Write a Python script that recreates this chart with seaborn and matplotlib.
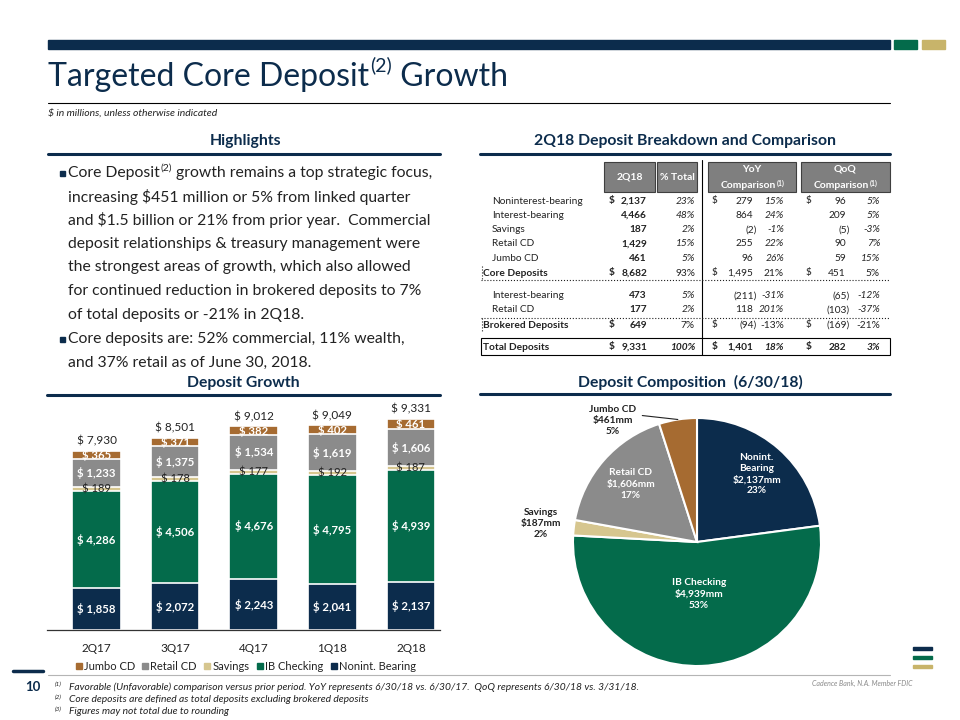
import numpy as np
import pandas as pd
import matplotlib.pyplot as plt
import seaborn as sns
from matplotlib.lines import Line2D
from matplotlib.patches import Rectangle

NAVY = '#0c2c4c'
GREEN = '#046b4b'
TAN = '#d6c68f'
GRAY = '#8b8b8b'
BROWN = '#a66b31'
GOLD = '#c8b46a'
INK = '#222222'

# deposit growth (stacked bars), $mm
quarters = ["2Q17", "3Q17", "4Q17", "1Q18", "2Q18"]
nonint_bearing = [1858, 2072, 2243, 2041, 2137]
ib_checking = [4286, 4506, 4676, 4795, 4939]
savings = [189, 178, 177, 192, 187]
retail_cd = [1233, 1375, 1534, 1619, 1606]
jumbo_cd = [365, 371, 382, 402, 461]
total_labels = [7930, 8501, 9012, 9049, 9331]

# deposit composition pie
pie_names = ["Nonint.\nBearing", "IB Checking", "Savings", "Retail CD", "Jumbo CD"]
pie_values = [2137, 4939, 187, 1606, 461]
pie_pcts = [23, 53, 2, 17, 5]

# breakdown table
row_names = ["Noninterest-bearing", "Interest-bearing", "Savings", "Retail CD", "Jumbo CD",
             "Core Deposits", "Interest-bearing", "Retail CD", "Brokered Deposits", "Total Deposits"]
q218 = [2137, 4466, 187, 1429, 461, 8682, 473, 177, 649, 9331]
pct_total = [23, 48, 2, 15, 5, 93, 5, 2, 7, 100]
yoy = [279, 864, -2, 255, 96, 1495, -211, 118, -94, 1401]
yoy_pct = [15, 24, -1, 22, 26, 21, -31, 201, -13, 18]
qoq = [96, 209, -5, 90, 59, 451, -65, -103, -169, 282]
qoq_pct = [5, 5, -3, 7, 15, 5, -12, -37, -21, 3]

bullets = [
    ["Core Deposit", "(2)", " growth remains a top strategic focus,",
     "increasing $451 million or 5% from linked quarter",
     "and $1.5 billion or 21% from prior year.  Commercial",
     "deposit relationships & treasury management were",
     "the strongest areas of growth, which also allowed",
     "for continued reduction in brokered deposits to 7%",
     "of total deposits or -21% in 2Q18."],
    ["Core deposits are: 52% commercial, 11% wealth,",
     "and 37% retail as of June 30, 2018."],
]

footnotes = [
    ("(1)", "Favorable (Unfavorable) comparison versus prior period. YoY represents 6/30/18 vs. 6/30/17.  QoQ represents 6/30/18 vs. 3/31/18."),
    ("(2)", "Core deposits are defined as total deposits excluding brokered deposits"),
    ("(3)", "Figures may not total due to rounding"),
]

sns.set_style('white')
plt.rcParams['font.family'] = ['Lato', 'DejaVu Sans']
plt.rcParams['text.parse_math'] = False

fig = plt.figure(figsize=(9.6, 7.2), dpi=100)
L = fig.add_axes([0, 0, 1, 1])
L.set_xlim(0, 960)
L.set_ylim(720, 0)
L.axis('off')


def sup_text(x, y, before, sup, after, size, sup_size, lift=0, **kw):
    t1 = L.text(x, y, before, fontsize=size, va='center', ha='left', **kw)
    t2 = L.annotate(sup, xy=(1, 1), xycoords=t1, xytext=(0.5, lift), textcoords='offset points',
                    fontsize=sup_size, va='top', ha='left', **kw)
    t3 = L.annotate(after, xy=(1, 0), xycoords=(t2, t1), fontsize=size, va='bottom', ha='left', **kw)
    return t3


# header band
L.add_patch(Rectangle((48, 40), 842, 9, color=NAVY))
L.add_patch(Rectangle((894, 40), 23, 9, color=GREEN))
L.add_patch(Rectangle((922, 40), 23, 9, color=GOLD))

sup_text(48, 77, "Targeted Core Deposit", "(2)", " Growth", 23, 14, lift=4, color=NAVY)
L.plot([48, 890], [103, 103], color='black', lw=0.8)
L.text(48, 113, "$ in millions, unless otherwise indicated", fontsize=7.5, style='italic',
       va='center', color=INK)

# section headings
for txt, cx, cy, x0, x1, uy in [("Highlights", 246, 141, 48, 440, 154),
                                ("2Q18 Deposit Breakdown and Comparison", 685, 141, 480, 890, 154),
                                ("Deposit Growth", 243, 383, 47, 440, 395),
                                ("Deposit Composition  (6/30/18)", 690, 382, 480, 890, 394)]:
    L.text(cx, cy, txt, fontsize=11.3, fontweight='bold', color=NAVY, ha='center', va='center')
    L.plot([x0, x1], [uy, uy], color=NAVY, lw=2.2)

# highlights bullets
y = 173
for b, lines in enumerate(bullets):
    L.add_patch(Rectangle((59.5, y - 2.5), 5, 5, color=NAVY))
    if b == 0:
        sup_text(68, y, lines[0], lines[1], lines[2], 11.3, 7.5, lift=2, color=INK)
        rest = lines[3:]
    else:
        L.text(68, y, lines[0], fontsize=11.3, va='center', color=INK)
        rest = lines[1:]
    for line in rest:
        y += 23.6
        L.text(68, y, line, fontsize=11.3, va='center', color=INK)
    y += 24.6

# table
for x0, x1, txt in [(604, 655, ["2Q18"]), (657, 697, ["% Total"]),
                    (708, 796, ["YoY", "Comparison"]), (801, 890, ["QoQ", "Comparison"])]:
    L.add_patch(Rectangle((x0, 162), x1 - x0, 30, facecolor='#7f7f7f', edgecolor='#3f3f3f', lw=0.8))
    cx = (x0 + x1) / 2
    if len(txt) == 1:
        L.text(cx, 177, txt[0], fontsize=7.5, color='white', fontweight='bold', ha='center', va='center')
    else:
        L.text(cx, 169, txt[0], fontsize=7.5, color='white', fontweight='bold', ha='center', va='center')
        t = L.text(cx - 4, 186, txt[1], fontsize=7.5, color='white', fontweight='bold', ha='center', va='center')
        L.annotate("(1)", xy=(1, 1), xycoords=t, xytext=(0.5, 1), textcoords='offset points',
                   fontsize=5, color='white', fontweight='bold', va='top', ha='left')

row_y = [201, 215, 230, 244, 258.5, 273, 296, 310, 325, 347]
dollar_rows = {0, 5, 8, 9}
sub_rows = {5, 8, 9}


def money(v):
    return f"{v:,}" if v >= 0 else f"({abs(v):,})"


for i, name in enumerate(row_names):
    ry = row_y[i]
    tot = i == 9
    lw_ = 'bold' if (i in sub_rows) else 'normal'
    L.text(483 if i in sub_rows else 492, ry, name, fontsize=7.3, fontweight=lw_, va='center', color=INK)
    kw = dict(fontsize=7.3, va='center', color=INK)
    bw = 'bold' if tot else 'normal'
    pst = 'normal' if i in (5, 8) else 'italic'
    if i in dollar_rows:
        for dx in (609, 712, 806):
            L.text(dx, ry, "$", fontweight='bold' if (tot or dx == 609) else 'normal', **kw)
    L.text(647, ry, f"{q218[i]:,}", ha='right', fontweight='bold', **kw)
    L.text(695, ry, f"{pct_total[i]}%", ha='right', fontweight=bw, style=pst, **kw)
    L.text(753 if yoy[i] >= 0 else 756.5, ry, money(yoy[i]), ha='right', fontweight=bw, **kw)
    L.text(784, ry, f"{yoy_pct[i]}%", ha='right', fontweight=bw, style=pst, **kw)
    L.text(846 if qoq[i] >= 0 else 849.5, ry, money(qoq[i]), ha='right', fontweight=bw, **kw)
    L.text(880, ry, f"{qoq_pct[i]}%", ha='right', fontweight=bw, style=pst, **kw)

L.plot([702, 702], [160, 355], color='black', lw=0.8)
for seg in [([481, 890], [280, 280]), ([482, 482], [266, 280]),
            ([481, 890], [318, 318]), ([482, 482], [318, 332])]:
    L.plot(*seg, color=INK, lw=0.8, ls=':')
L.add_patch(Rectangle((481, 338), 409, 17, fill=False, edgecolor='black', lw=0.8))

# stacked bars
layers = ["Nonint. Bearing", "IB Checking", "Savings", "Retail CD", "Jumbo CD"]
layer_colors = [NAVY, GREEN, TAN, GRAY, BROWN]
df = pd.DataFrame({"Nonint. Bearing": nonint_bearing, "IB Checking": ib_checking,
                   "Savings": savings, "Retail CD": retail_cd, "Jumbo CD": jumbo_cd},
                  index=quarters)
cum = df.cumsum(axis=1)

bx = fig.add_axes([47 / 960, 90 / 720, 393 / 960, 230 / 720])
for layer, col in reversed(list(zip(layers, layer_colors))):
    sns.barplot(x=quarters, y=cum[layer].values, color=col, width=0.62, saturation=1,
                edgecolor='white', linewidth=1.2, errorbar=None, ax=bx)

for j, layer in enumerate(layers):
    mids = cum[layer] - df[layer] / 2
    for i, q in enumerate(quarters):
        v = df[layer].iloc[i]
        if layer == "Savings":
            bx.text(i, mids.iloc[i], f"$ {v:,}", ha='center', va='center', fontsize=8, color=INK)
        else:
            bx.text(i, mids.iloc[i], f"$ {v:,}", ha='center', va='center', fontsize=8.2,
                    color='white', fontweight='bold')
for i, t in enumerate(total_labels):
    bx.annotate(f"$ {t:,}", xy=(i, cum["Jumbo CD"].iloc[i]), xytext=(0, 3), textcoords='offset points',
                ha='center', va='bottom', fontsize=8.5, color=INK)

bx.set_xlim(-0.63, 4.37)
bx.set_ylim(0, 10170)
bx.set_yticks([])
bx.set_ylabel('')
bx.patch.set_visible(False)
sns.despine(ax=bx, left=True)
bx.spines['bottom'].set_color('#333333')
bx.spines['bottom'].set_linewidth(0.9)
bx.tick_params(axis='x', length=0, pad=9, labelsize=8.5, labelcolor=INK)

handles = [Line2D([], [], marker='s', ls='', color=c, markersize=4.5) for c in layer_colors[::-1]]
fig.legend(handles, layers[::-1], loc='center', bbox_to_anchor=(245 / 960, 1 - 666 / 720), ncol=5,
           frameon=False, fontsize=8, handletextpad=0.05, columnspacing=0.55, handlelength=0.8,
           borderaxespad=0, labelcolor=INK)

# pie
px = fig.add_axes([(697 - 124) / 960, (720 - 666) / 720, 248 / 960, 248 / 720])
wedges, _ = px.pie(pie_values, colors=layer_colors, startangle=90, counterclock=False,
                   wedgeprops=dict(edgecolor='white', linewidth=1.5))
px.set_xlim(-1, 1)
px.set_ylim(-1, 1)
label_r = [0.73, 0.42, 1.27, 0.71, None]
for w, name, v, p, r in zip(wedges, pie_names, pie_values, pie_pcts, label_r):
    ang = np.deg2rad((w.theta1 + w.theta2) / 2)
    txt = f"{name}\n${v:,}mm\n{p}%"
    if r is None:
        px.annotate(txt, xy=(np.cos(ang), np.sin(ang)), xytext=(-0.68, 0.98), ha='center', va='center',
                    fontsize=7.3, fontweight='bold', color=INK, linespacing=1.3,
                    arrowprops=dict(arrowstyle='-', color=INK, lw=0.8, relpos=(1.0, 0.68), shrinkA=2, shrinkB=0))
        continue
    inside = r < 1
    px.text(r * np.cos(ang), r * np.sin(ang), txt, ha='center', va='center', fontsize=7.3,
            fontweight='bold', color='white' if inside else INK, linespacing=1.3)

# footer
L.plot([13, 43], [671, 671], color=NAVY, lw=2.5)
L.text(33, 687, "10", fontsize=9.5, fontweight='bold', color=NAVY, ha='center', va='center')
L.plot([48, 890], [675, 675], color='#b5b5b5', lw=0.8)
for k, (mark, note) in enumerate(footnotes):
    fy_ = 687 + k * 12.5
    L.text(55, fy_ - 2.5, mark, fontsize=4.5, style='italic', color=INK, va='center')
    L.text(69, fy_, note, fontsize=7.4, style='italic', color=INK, va='center')
L.text(812, 683, "Cadence Bank, N.A. Member FDIC", fontsize=5, color='#8a8a8a', style='italic', va='center')
for yy, c in [(647, NAVY), (656, GREEN), (665, GOLD)]:
    L.add_patch(Rectangle((913, yy), 19, 3, color=c))

fig.savefig('out.png', dpi=100)
